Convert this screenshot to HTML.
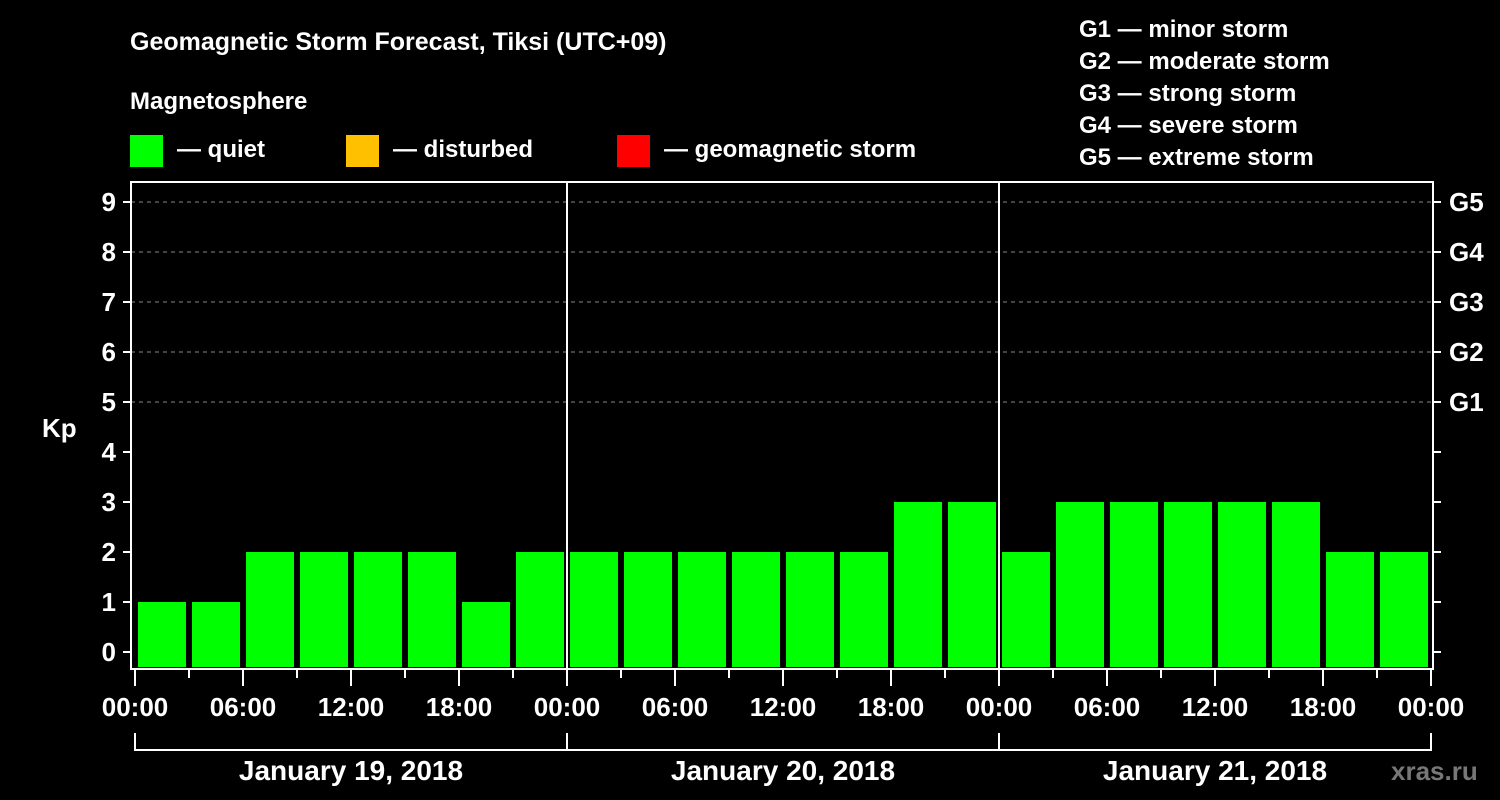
<!DOCTYPE html>
<html><head><meta charset="utf-8"><style>
html,body{margin:0;padding:0;background:#000;width:1500px;height:800px;overflow:hidden}
svg text{font-family:"Liberation Sans",sans-serif;font-weight:bold;fill:#fff}
</style></head><body>
<svg id="c" width="1500" height="800" xmlns="http://www.w3.org/2000/svg">
<text x="130" y="50" font-size="25">Geomagnetic Storm Forecast, Tiksi (UTC+09)</text>
<text x="130" y="109" font-size="24">Magnetosphere</text>
<rect x="130" y="135" width="33" height="32" fill="#00ff00"/>
<text x="177" y="157" font-size="24">— quiet</text>
<rect x="346" y="135" width="33" height="32" fill="#ffc000"/>
<text x="393" y="157" font-size="24">— disturbed</text>
<rect x="617" y="135" width="33" height="32" fill="#ff0000"/>
<text x="664" y="157" font-size="24">— geomagnetic storm</text>
<g font-size="24">
<text x="1079" y="37">G1 — minor storm</text>
<text x="1079" y="69">G2 — moderate storm</text>
<text x="1079" y="101">G3 — strong storm</text>
<text x="1079" y="133">G4 — severe storm</text>
<text x="1079" y="165">G5 — extreme storm</text>
</g>
<text x="42" y="437" font-size="26">Kp</text>
<text x="1391" y="780" font-size="26" fill="#777" style="fill:#777">xras.ru</text>
<g id="grid"></g><g id="bars"></g><g id="axes"></g>
</svg>
<script>
const kpValues=[1,1,2,2,2,2,1,2, 2,2,2,2,2,2,3,3, 2,3,3,3,3,3,2,2];
const dayLabels=["January 19, 2018","January 20, 2018","January 21, 2018"];
const hourLabels=["00:00","06:00","12:00","18:00"];
const gLabels=["G1","G2","G3","G4","G5"];
const NS="http://www.w3.org/2000/svg";
const L=131,R=1433,T=182,B=669,X0=135,SLOT=54;
const y=v=>652-50*v;
const x=i=>X0+SLOT*i;
function mk(t,a,p){const e=document.createElementNS(NS,t);for(const k in a)e.setAttribute(k,a[k]);p.appendChild(e);return e;}
const grid=document.getElementById('grid'),bars=document.getElementById('bars'),axes=document.getElementById('axes');
for(let g=0;g<gLabels.length;g++){
  const l=mk('line',{x1:L,x2:R,y1:y(5+g),y2:y(5+g),stroke:'#888','stroke-dasharray':'4,4','stroke-width':1},grid);
  
  
  const t=mk('text',{x:1449,y:y(5+g)+9,'font-size':26},axes);t.textContent=gLabels[g];
  
  
}
kpValues.forEach((v,i)=>{
  const r=mk('rect',{x:x(i)+3,y:y(v),width:48,height:667-y(v),fill:v>=5?'#ff0000':(v>=4?'#ffc000':'#00ff00')},bars);
  
  
});
const fr=mk('rect',{x:L,y:T,width:R-L,height:B-T,fill:'none',stroke:'#fff','stroke-width':2},axes);


for(let d=1;d<dayLabels.length;d++){
  const l=mk('line',{x1:x(8*d),x2:x(8*d),y1:T,y2:B,stroke:'#fff','stroke-width':2},axes);
  
  
}
for(let k=0;k<=9;k++){
  mk('line',{x1:L-8,x2:L,y1:y(k),y2:y(k),stroke:'#fff','stroke-width':2},axes);
  mk('line',{x1:R,x2:R+8,y1:y(k),y2:y(k),stroke:'#fff','stroke-width':2},axes);
  const t=mk('text',{x:L-15,y:y(k)+9,'font-size':26,'text-anchor':'end'},axes);t.textContent=k;
  
  
}
for(let i=0;i<=kpValues.length;i++){
  mk('line',{x1:x(i),x2:x(i),y1:B,y2:i%2==0?686:678,stroke:'#fff','stroke-width':2},axes);
  if(i%2==0){
    const t=mk('text',{x:x(i),y:716,'font-size':26,'text-anchor':'middle'},axes);
    t.textContent=hourLabels[(i/2)%4];
    
    
  }
}
dayLabels.forEach((lab,d)=>{
  const a=x(8*d),b=x(8*d+8);
  mk('path',{d:`M${a} 733V750H${b}V733`,fill:'none',stroke:'#fff','stroke-width':2},axes);
  const t=mk('text',{x:(a+b)/2,y:780,'font-size':28,'text-anchor':'middle'},axes);t.textContent=lab;
  
  
});
</script>
</body></html>
